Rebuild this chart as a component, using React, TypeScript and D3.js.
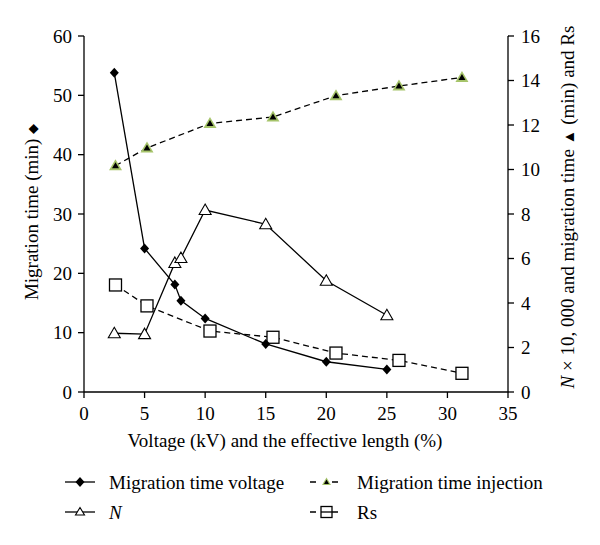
import React from "react";
import * as d3 from "d3";

const voltageX = [2.5, 5, 7.5, 8, 10, 15, 20, 25];
const migrationTimeVoltage = [53.8, 24.2, 18.1, 15.4, 12.4, 8.1, 5.1, 3.8];
const nValues = [2.64, 2.6, 5.8, 6.02, 8.18, 7.54, 5.0, 3.45];
const lengthX = [2.6, 5.2, 10.4, 15.6, 20.8, 26, 31.2];
const migrationTimeInjection = [10.17, 10.97, 12.07, 12.36, 13.32, 13.75, 14.14];
const rsValues = [4.81, 3.87, 2.74, 2.46, 1.75, 1.42, 0.84];
const xTicks = [0, 5, 10, 15, 20, 25, 30, 35];
const leftTicks = [0, 10, 20, 30, 40, 50, 60];
const rightTicks = [0, 2, 4, 6, 8, 10, 12, 14, 16];

const W = 600, H = 545;
const L = 84, R = 508, T = 36, B = 392;
const FONT = '"Liberation Serif", "DejaVu Serif", serif';
const FS = 19;

export default function App() {
  const x = d3.scaleLinear().domain([0, 35]).range([L, R]);
  const yL = d3.scaleLinear().domain([0, 60]).range([B, T]);
  const yR = d3.scaleLinear().domain([0, 16]).range([B, T]);

  const lineL = d3.line<[number, number]>().x(d => x(d[0])).y(d => yL(d[1]));
  const lineR = d3.line<[number, number]>().x(d => x(d[0])).y(d => yR(d[1]));

  const mtv = voltageX.map((v, i) => [v, migrationTimeVoltage[i]] as [number, number]);
  const nn = voltageX.map((v, i) => [v, nValues[i]] as [number, number]);
  const mti = lengthX.map((v, i) => [v, migrationTimeInjection[i]] as [number, number]);
  const rs = lengthX.map((v, i) => [v, rsValues[i]] as [number, number]);

  const diamond = (cx: number, cy: number, k: string) => (
    <path key={k} d={`M${cx},${cy - 5}L${cx + 4.5},${cy}L${cx},${cy + 5}L${cx - 4.5},${cy}Z`} fill="#000" />
  );
  const triOpen = (cx: number, cy: number, k: string) => (
    <path key={k} d={`M${cx},${cy - 6}L${cx + 6},${cy + 4.5}L${cx - 6},${cy + 4.5}Z`} fill="#fff" stroke="#000" strokeWidth={1.1} />
  );
  const triGreen = (cx: number, cy: number, k: string) => (
    <g key={k}>
      <path d={`M${cx},${cy - 6.5}L${cx + 6.5},${cy + 4.5}L${cx - 6.5},${cy + 4.5}Z`} fill="#a6c46a" />
      <path d={`M${cx},${cy - 3.5}L${cx + 3.5},${cy + 2.5}L${cx - 3.5},${cy + 2.5}Z`} fill="#000" />
    </g>
  );
  const square = (cx: number, cy: number, k: string) => (
    <rect key={k} x={cx - 6} y={cy - 6} width={12} height={12} fill="#fff" stroke="#000" strokeWidth={1.3} />
  );

  const dash = "6,4";
  const ts: React.CSSProperties = { fontFamily: FONT, fontSize: FS };

  return (
    <svg width={W} height={H} style={{ position: "absolute", left: 0, top: 0, background: "#fff" }}>
      <rect width={W} height={H} fill="#fff" />
      {/* axes */}
      <line x1={L} y1={T} x2={L} y2={B} stroke="#000" strokeWidth={1.3} />
      <line x1={R} y1={T} x2={R} y2={B} stroke="#000" strokeWidth={1.3} />
      <line x1={L} y1={B} x2={R} y2={B} stroke="#000" strokeWidth={1.3} />
      {xTicks.map(t => (
        <g key={"x" + t}>
          <line x1={x(t)} y1={B} x2={x(t)} y2={B + 6} stroke="#000" strokeWidth={1.3} />
          <text x={x(t)} y={B + 28} textAnchor="middle" style={ts}>{t}</text>
        </g>
      ))}
      {leftTicks.map(t => (
        <g key={"l" + t}>
          <line x1={L - 6} y1={yL(t)} x2={L} y2={yL(t)} stroke="#000" strokeWidth={1.3} />
          <text x={L - 12} y={yL(t)} dy="0.35em" textAnchor="end" style={ts}>{t}</text>
        </g>
      ))}
      {rightTicks.map(t => (
        <g key={"r" + t}>
          <line x1={R} y1={yR(t)} x2={R + 6} y2={yR(t)} stroke="#000" strokeWidth={1.3} />
          <text x={R + 13} y={yR(t)} dy="0.35em" textAnchor="start" style={ts}>{t}</text>
        </g>
      ))}
      {/* axis titles */}
      <text transform={`translate(38,212) rotate(-90)`} textAnchor="middle" style={ts}>
        Migration time (min) <tspan style={{ fontSize: 13 }} dy="-1">◆</tspan>
      </text>
      <text transform={`translate(574,207) rotate(-90)`} textAnchor="middle" style={ts}>
        <tspan fontStyle="italic">N</tspan> × 10, 000 and migration time <tspan style={{ fontSize: 15 }}>▲</tspan> (min) and Rs
      </text>
      <text x={285} y={447} textAnchor="middle" style={ts}>Voltage (kV) and the effective length (%)</text>

      {/* series */}
      <path d={lineR(mti) || ""} fill="none" stroke="#000" strokeWidth={1.3} strokeDasharray={dash} />
      <path d={lineR(rs) || ""} fill="none" stroke="#000" strokeWidth={1.3} strokeDasharray={dash} />
      <path d={lineR(nn) || ""} fill="none" stroke="#000" strokeWidth={1.3} />
      <path d={lineL(mtv) || ""} fill="none" stroke="#000" strokeWidth={1.3} />
      {mti.map((d, i) => triGreen(x(d[0]), yR(d[1]), "g" + i))}
      {rs.map((d, i) => square(x(d[0]), yR(d[1]), "s" + i))}
      {nn.map((d, i) => triOpen(x(d[0]), yR(d[1]), "t" + i))}
      {mtv.map((d, i) => diamond(x(d[0]), yL(d[1]), "d" + i))}

      {/* legend */}
      <g>
        <line x1={65} y1={482} x2={95} y2={482} stroke="#000" strokeWidth={1.3} />
        {diamond(80, 482, "ld")}
        <text x={109} y={489} style={ts}>Migration time voltage</text>
        <line x1={65} y1={512} x2={95} y2={512} stroke="#000" strokeWidth={1.3} />
        <path d="M80,507.5L84.5,515L75.5,515Z" fill="#fff" stroke="#000" strokeWidth={1.1} />
        <text x={109} y={519} style={{ ...ts, fontStyle: "italic" }}>N</text>

        <line x1={310} y1={482} x2={343} y2={482} stroke="#000" strokeWidth={1.3} strokeDasharray="6,5" />
        <rect x={321} y={476} width={11} height={11} fill="#fff" />
        <path d="M326.5,477.5L331,485L322,485Z" fill="#a6c46a" />
        <path d="M326.5,479.5L329,484L324,484Z" fill="#000" />
        <text x={357} y={489} style={ts}>Migration time injection</text>

        <line x1={310} y1={512} x2={343} y2={512} stroke="#000" strokeWidth={1.3} strokeDasharray="6,5" />
        <rect x={321} y={506.5} width={11} height={11} fill="#fff" stroke="#000" strokeWidth={1.3} />
        <line x1={321} y1={512} x2={332} y2={512} stroke="#000" strokeWidth={1.3} />
        <text x={357} y={519} style={ts}>Rs</text>
      </g>
    </svg>
  );
}
